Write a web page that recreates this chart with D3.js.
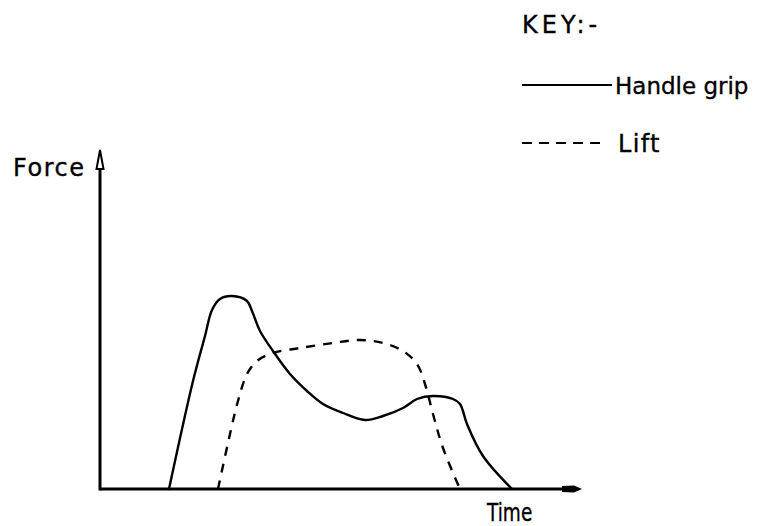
<!DOCTYPE html>
<html>
<head>
<meta charset="utf-8">
<script src="https://cdn.jsdelivr.net/npm/d3@7/dist/d3.min.js"></script>
<style>
  html, body { margin: 0; padding: 0; background: #fff; }
  svg { display: block; }
  text { font-family: "DejaVu Sans", sans-serif; fill: #000; stroke: #000; stroke-width: 0.35; }
</style>
</head>
<body>
<svg id="chart" width="759" height="526"></svg>
<script>
// Series names and labels
const seriesNames = ["Handle grip", "Lift"];
const axisLabels = { x: "Time", y: "Force" };
const keyTitle = "KEY:-";

// Handle grip (solid): time, force (arbitrary units)
const gripTime  = [6.9, 9.3, 10.5, 11.2, 12.0, 13.2, 14.7, 15.2, 16.0, 17.3, 19.0, 20.7, 22.3, 24.3, 26.5, 28.3, 30.3, 31.7, 33.3, 35.3, 36.0, 36.7, 38.3, 41.2];
const gripForce = [0.0, 10.8, 15.3, 17.9, 19.0, 19.3, 18.8, 17.8, 15.8, 13.8, 11.5, 9.8, 8.5, 7.6, 6.9, 7.3, 8.1, 9.0, 9.3, 9.0, 8.5, 6.5, 3.3, 0.0];

// Lift (dashed): time, force
const liftTime  = [11.8, 13.0, 13.8, 14.7, 15.7, 17.3, 20.0, 23.3, 26.0, 28.3, 30.3, 31.7, 32.5, 33.3, 34.3, 36.0];
const liftForce = [0.0, 5.5, 8.8, 11.5, 12.8, 13.6, 14.1, 14.6, 14.9, 14.6, 13.8, 12.5, 10.5, 7.5, 4.1, 0.0];

const svg = d3.select("#chart");
const x = d3.scaleLinear().domain([0, 48.2]).range([100, 582]);
const y = d3.scaleLinear().domain([0, 33.9]).range([489, 150]);

const line = d3.line().x(d => x(d[0])).y(d => y(d[1])).curve(d3.curveCatmullRom.alpha(0.5));

const grip = gripTime.map((t, i) => [t, gripForce[i]]);
const lift = liftTime.map((t, i) => [t, liftForce[i]]);

// Curves
svg.append("path").attr("d", line(grip))
  .attr("fill", "none").attr("stroke", "#000").attr("stroke-width", 2.4)
  .attr("stroke-linejoin", "round").attr("stroke-linecap", "round");
svg.append("path").attr("d", line(lift))
  .attr("fill", "none").attr("stroke", "#000").attr("stroke-width", 2.4)
  .attr("stroke-dasharray", "9,8");

// Axes
const x0 = x(0), y0 = y(0);
const xEnd = x.range()[1], yEnd = y.range()[1];
svg.append("line").attr("x1", x0).attr("y1", y0).attr("x2", xEnd - 18).attr("y2", y0)
  .attr("stroke", "#000").attr("stroke-width", 3);
svg.append("line").attr("x1", x0).attr("y1", y0 + 1.5).attr("x2", x0).attr("y2", yEnd + 18)
  .attr("stroke", "#000").attr("stroke-width", 3);
// x arrowhead (filled, elongated)
svg.append("path")
  .attr("d", `M${xEnd},${y0} L${xEnd - 8},${y0 - 3.5} L${xEnd - 20},${y0 - 3} L${xEnd - 20},${y0 + 3} L${xEnd - 8},${y0 + 3.5} Z`)
  .attr("fill", "#000");
// y arrowhead (open)
svg.append("path")
  .attr("d", `M${x0},${yEnd} L${x0 - 3.5},${yEnd + 19} L${x0 + 3.5},${yEnd + 19} Z`)
  .attr("fill", "#fff").attr("stroke", "#000").attr("stroke-width", 2);

function label(txt, tx, ty, size, spacing, sx) {
  svg.append("text")
    .attr("transform", `translate(${tx},${ty}) scale(${sx || 1},1)`)
    .attr("font-size", size).attr("letter-spacing", spacing).text(txt);
}

// Axis labels
label(axisLabels.y, 13, 176, 24, 1.5);
label(axisLabels.x, 487, 521, 25, 0, 0.74);

// Key
label(keyTitle, 522, 33, 24, 4);
svg.append("line").attr("x1", 522).attr("x2", 612).attr("y1", 85).attr("y2", 85)
  .attr("stroke", "#000").attr("stroke-width", 2.2);
label(seriesNames[0], 615, 94, 23, 0);
svg.append("line").attr("x1", 522).attr("x2", 600).attr("y1", 143).attr("y2", 143)
  .attr("stroke", "#000").attr("stroke-width", 2.2).attr("stroke-dasharray", "10,7");
label(seriesNames[1], 618, 152, 24, 1.3);
</script>
</body>
</html>
